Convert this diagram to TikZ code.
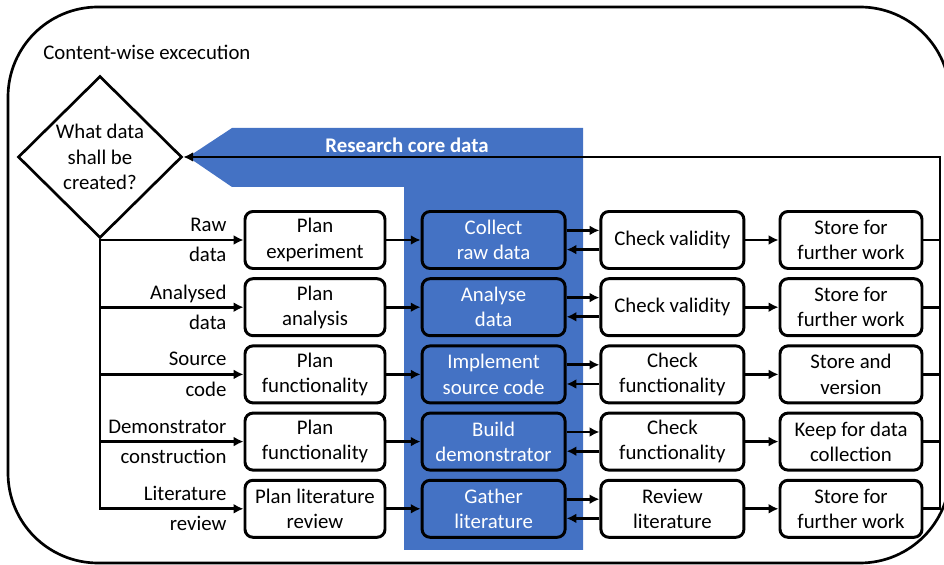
\documentclass[tikz,border=0pt]{standalone}
\usepackage{fontspec}
\setmainfont{Carlito}
\usepackage{xcolor}
\usepackage{tikz}
\usetikzlibrary{shapes.geometric,arrows.meta,positioning}
\definecolor{coreblue}{HTML}{4472C4}

\begin{document}
\begin{tikzpicture}[node distance=1.68cm, auto, >={Latex[length=7pt,width=7pt]}, font=\fontsize{14.8}{18}\selectfont]
    % Define styles
    \tikzstyle{plan} = [rectangle, rounded corners=0.2cm, minimum width=3.5cm, minimum height=1.425cm, align=center, inner sep=0pt, draw=black, line width=2.1pt, fill=white]
    \tikzstyle{core} = [plan, minimum width=3.575cm, fill=coreblue, text=white]
    \tikzstyle{check} = [plan, minimum width=3.575cm]
    \tikzstyle{store} = [plan, minimum width=3.55cm]
    \tikzstyle{decision} = [diamond, minimum width=4.1cm, minimum height=4.05cm, inner sep=0pt, align=center, draw=black, line width=1.9pt]
    \tikzstyle{datalabel} = [align=right, inner sep=0pt]
    \tikzstyle{line} = [line width=1.9pt]

    \useasboundingbox (0,0) rectangle (23.6,-14.125);

    % Frame and core data band
    \draw[line, rounded corners=2.25cm] (0.2,-0.175) rectangle (23.75,-14.075);
    \node[anchor=west, inner sep=0pt] (frame_title) at (1.075,-1.3) {Content-wise excecution};
    \fill[coreblue] (4.7,-3.925) -- (5.8,-3.2) -- (14.575,-3.2) -- (14.575,-13.75) -- (10.1,-13.75) -- (10.1,-4.675) -- (5.8,-4.675) -- cycle;
    \node[text=white, font=\fontsize{14.8}{18}\selectfont\bfseries] (core_title) at (10.175,-3.625) {Research core data};

    % Nodes
    \node[decision] (choice) at (2.5,-3.925) {What data\\shall be\\created?};
    \node[plan] (plan_exp) at (7.875,-6.0) {Plan\\experiment};
    \node[plan, below of=plan_exp] (plan_ana) {Plan\\analysis};
    \node[plan, below of=plan_ana] (plan_code) {Plan\\functionality};
    \node[plan, below of=plan_code] (plan_demo) {Plan\\functionality};
    \node[plan, below of=plan_demo] (plan_lit) {Plan literature\\review};

    \node[datalabel, left=0.42cm of plan_exp] (lbl_raw) {Raw\\[3.5pt]data};
    \node[datalabel, left=0.42cm of plan_ana] (lbl_ana) {Analysed\\[3.5pt]data};
    \node[datalabel, left=0.42cm of plan_code] (lbl_code) {Source\\[3.5pt]code};
    \node[datalabel, left=0.42cm of plan_demo] (lbl_demo) {Demonstrator\\[3.5pt]construction};
    \node[datalabel, left=0.42cm of plan_lit] (lbl_lit) {Literature\\[3.5pt]review};

    \node[core] (collect_raw) at (12.34,-6.0) {Collect\\raw data};
    \node[core, below of=collect_raw] (analyse_data) {Analyse\\data};
    \node[core, below of=analyse_data] (implement_code) {Implement\\source code};
    \node[core, below of=implement_code] (build_demo) {Build\\demonstrator};
    \node[core, below of=build_demo] (gather_lit) {Gather\\literature};

    \node[check] (check_raw) at (16.81,-6.0) {Check validity};
    \node[check, below of=check_raw] (check_ana) {Check validity};
    \node[check, below of=check_ana] (check_code) {Check\\functionality};
    \node[check, below of=check_code] (check_demo) {Check\\functionality};
    \node[check, below of=check_demo] (review_lit) {Review\\literature};

    \node[store] (store_raw) at (21.275,-6.0) {Store for\\further work};
    \node[store, below of=store_raw] (store_ana) {Store for\\further work};
    \node[store, below of=store_ana] (store_code) {Store and\\version};
    \node[store, below of=store_code] (keep_demo) {Keep for data\\collection};
    \node[store, below of=keep_demo] (store_lit) {Store for\\further work};

    \coordinate (back) at (23.5,-3.925);

    % Connections
    \draw[line, ->] (choice.south) |- (plan_lit);
    \draw[line, ->] (choice.south) |- (plan_demo);
    \draw[line, ->] (choice.south) |- (plan_code);
    \draw[line, ->] (choice.south) |- (plan_ana);
    \draw[line, ->] (choice.south) |- (plan_exp);

    \draw[line, ->] (plan_exp) -- (collect_raw);
    \draw[line, ->] (plan_ana) -- (analyse_data);
    \draw[line, ->] (plan_code) -- (implement_code);
    \draw[line, ->] (plan_demo) -- (build_demo);
    \draw[line, ->] (plan_lit) -- (gather_lit);

    \draw[line, ->] ([yshift=0.24cm]collect_raw.east) -- ([yshift=0.24cm]check_raw.west);
    \draw[line, ->] ([yshift=-0.24cm]check_raw.west) -- ([yshift=-0.24cm]collect_raw.east);
    \draw[line, ->] ([yshift=0.24cm]analyse_data.east) -- ([yshift=0.24cm]check_ana.west);
    \draw[line, ->] ([yshift=-0.24cm]check_ana.west) -- ([yshift=-0.24cm]analyse_data.east);
    \draw[line, ->] ([yshift=0.24cm]implement_code.east) -- ([yshift=0.24cm]check_code.west);
    \draw[line, ->] ([yshift=-0.24cm]check_code.west) -- ([yshift=-0.24cm]implement_code.east);
    \draw[line, ->] ([yshift=0.24cm]build_demo.east) -- ([yshift=0.24cm]check_demo.west);
    \draw[line, ->] ([yshift=-0.24cm]check_demo.west) -- ([yshift=-0.24cm]build_demo.east);
    \draw[line, ->] ([yshift=0.24cm]gather_lit.east) -- ([yshift=0.24cm]review_lit.west);
    \draw[line, ->] ([yshift=-0.24cm]review_lit.west) -- ([yshift=-0.24cm]gather_lit.east);

    \draw[line, ->] (check_raw) -- (store_raw);
    \draw[line, ->] (check_ana) -- (store_ana);
    \draw[line, ->] (check_code) -- (store_code);
    \draw[line, ->] (check_demo) -- (keep_demo);
    \draw[line, ->] (review_lit) -- (store_lit);

    \draw[line] (store_raw) -- (store_raw -| back);
    \draw[line] (store_ana) -- (store_ana -| back);
    \draw[line] (store_code) -- (store_code -| back);
    \draw[line] (keep_demo) -- (keep_demo -| back);
    \draw[line, ->] (store_lit) -| (back) -- (choice.east);
\end{tikzpicture}
\end{document}
